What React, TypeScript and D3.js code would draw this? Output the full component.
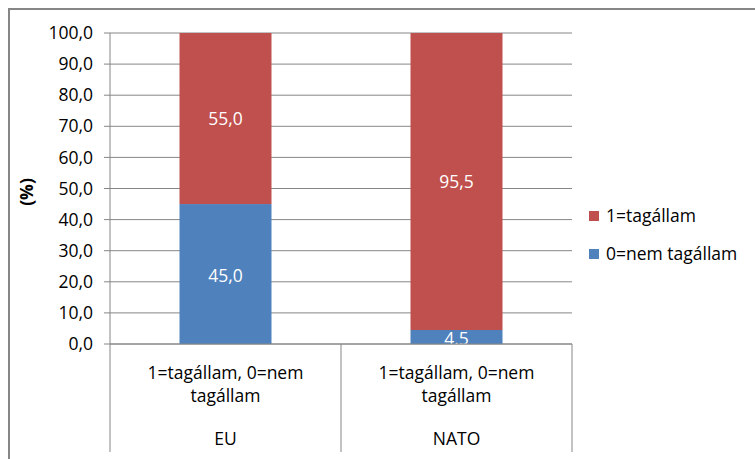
import React from "react";
import * as d3 from "d3";

const groups = ["EU", "NATO"];
const categoryLabel = ["1=tagállam, 0=nem", "tagállam"];
const seriesNames = ["0=nem tagállam", "1=tagállam"];
const nemValues = [45.0, 4.5];
const tagValues = [55.0, 95.5];
const nemLabels = ["45,0", "4.5"];
const tagLabels = ["55,0", "95,5"];
const yTicks = [0, 10, 20, 30, 40, 50, 60, 70, 80, 90, 100];
const colors = { tag: "#C0504D", nem: "#4F81BD" };

const W = 755, H = 459;
const L = 110, R = 572, T = 33, B = 344;
const font = "'Open Sans', 'Noto Sans', sans-serif";
const fs = 17.5;

export default function App() {
  const x = d3.scaleBand<string>().domain(groups).range([L, R]).paddingInner(0).paddingOuter(0);
  const y = d3.scaleLinear().domain([0, 100]).range([B, T]);
  const bw = 92;
  const fmt = (v: number) => v.toFixed(1).replace(".", ",");
  return (
    <svg width={W} height={H} style={{ position: "absolute", left: 0, top: 0, background: "#fff" }}>
      <defs>
        <clipPath id="plot"><rect x={L} y={T} width={R - L} height={B - T} /></clipPath>
      </defs>
      <rect x={9} y={9} width={W + 20} height={H + 20} fill="#fff" stroke="#868686" strokeWidth={2} />
      {yTicks.map((t) => (
        <g key={t}>
          <line x1={L - 6} x2={R} y1={y(t)} y2={y(t)} stroke="#868686" strokeWidth={1} />
          <text x={93} y={y(t)} dy="0.35em" textAnchor="end" fontFamily={font} fontSize={fs} fill="#000">{fmt(t)}</text>
        </g>
      ))}
      <line x1={L} x2={L} y1={T} y2={B} stroke="#868686" />
      {groups.map((g, i) => {
        const cx = (x(g) as number) + x.bandwidth() / 2;
        return (
          <g key={g}>
            <rect x={cx - bw / 2} y={y(nemValues[i])} width={bw} height={y(0) - y(nemValues[i])} fill={colors.nem} />
            <rect x={cx - bw / 2} y={y(nemValues[i] + tagValues[i])} width={bw} height={y(nemValues[i]) - y(nemValues[i] + tagValues[i])} fill={colors.tag} />
            <g clipPath="url(#plot)">
              <text x={cx} y={y(nemValues[i] / 2) + 2} dy="0.35em" textAnchor="middle" fontFamily={font} fontSize={fs} fill="#fff">{nemLabels[i]}</text>
            </g>
            <text x={cx} y={y(nemValues[i] + tagValues[i] / 2)} dy="0.35em" textAnchor="middle" fontFamily={font} fontSize={fs} fill="#fff">{tagLabels[i]}</text>
            <text x={cx} y={373} dy="0.35em" textAnchor="middle" fontFamily={font} fontSize={fs} fill="#000">{categoryLabel[0]}</text>
            <text x={cx} y={396} dy="0.35em" textAnchor="middle" fontFamily={font} fontSize={fs} fill="#000">{categoryLabel[1]}</text>
            <text x={cx} y={439} dy="0.35em" textAnchor="middle" fontFamily={font} fontSize={fs} fill="#000">{g}</text>
          </g>
        );
      })}
      <line x1={L} x2={R} y1={B} y2={B} stroke="#868686" />
      {[L, L + x.bandwidth(), R].map((xx, i) => (
        <line key={i} x1={xx} x2={xx} y1={B} y2={452} stroke="#868686" />
      ))}
      <text transform={`translate(27,192) rotate(-90)`} dy="0.35em" textAnchor="middle" fontFamily={font} fontSize={fs} fontWeight="bold" fill="#000">(%)</text>
      {[{ n: seriesNames[1], c: colors.tag, y: 216 }, { n: seriesNames[0], c: colors.nem, y: 254 }].map((d) => (
        <g key={d.n}>
          <rect x={589} y={d.y - 5} width={10} height={10} fill={d.c} />
          <text x={606} y={d.y} dy="0.35em" fontFamily={font} fontSize={fs} fill="#000">{d.n}</text>
        </g>
      ))}
    </svg>
  );
}
